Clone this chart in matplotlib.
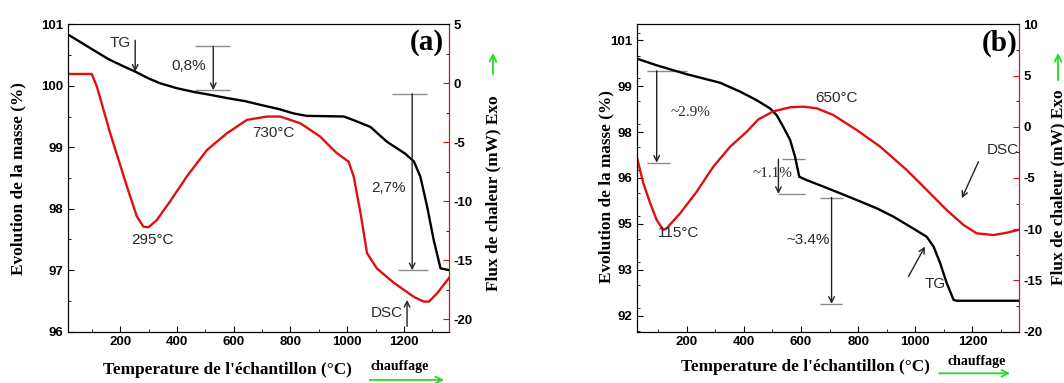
import matplotlib
matplotlib.use('Agg')
import matplotlib.pyplot as plt
from matplotlib.patches import FancyArrowPatch
from matplotlib.ticker import MultipleLocator

plt.rcParams['axes.unicode_minus'] = False

# panel (a) data
tg_a_x = [17, 60, 106, 160, 210, 253, 300, 341, 400, 459, 520, 576, 640, 694, 760, 811, 858, 988, 1023, 1082, 1140, 1203, 1235, 1258, 1282, 1305, 1329, 1361]
tg_a_y = [100.83, 100.71, 100.58, 100.43, 100.32, 100.23, 100.12, 100.04, 99.96, 99.90, 99.85, 99.80, 99.75, 99.69, 99.62, 99.55, 99.51, 99.50, 99.44, 99.33, 99.09, 98.90, 98.77, 98.52, 98.03, 97.49, 97.03, 97.0]
dsc_a_x = [15, 100, 118, 165, 224, 259, 282, 300, 329, 376, 435, 506, 576, 647, 717, 764, 835, 905, 940, 964, 1005, 1023, 1047, 1070, 1105, 1164, 1235, 1270, 1288, 1317, 1362]
dsc_a_y = [0.79, 0.79, -0.28, -4.24, -8.76, -11.3, -12.15, -12.2, -11.6, -10.0, -7.9, -5.65, -4.24, -3.1, -2.82, -2.82, -3.39, -4.52, -5.37, -5.93, -6.64, -7.9, -11.0, -14.4, -15.7, -16.9, -18.1, -18.5, -18.5, -17.8, -16.4]

# panel (b) data
tg_b_x = [25, 95, 200, 317, 387, 445, 492, 515, 538, 562, 579, 594, 620, 678, 737, 795, 865, 923, 982, 1040, 1064, 1087, 1110, 1134, 1145, 1359]
tg_b_y = [100.40, 100.18, 99.89, 99.61, 99.32, 99.04, 98.77, 98.55, 98.17, 97.74, 97.2, 96.54, 96.43, 96.22, 96.0, 95.78, 95.51, 95.24, 94.91, 94.58, 94.26, 93.72, 93.07, 92.52, 92.49, 92.49]
dsc_b_x = [25, 48, 72, 95, 118, 130, 177, 235, 293, 352, 410, 450, 503, 562, 608, 655, 713, 795, 877, 970, 1040, 1110, 1169, 1215, 1274, 1321, 1359]
dsc_b_y = [-2.9, -5.5, -7.45, -9.1, -10.08, -9.9, -8.45, -6.34, -3.9, -1.95, -0.49, 0.7, 1.5, 1.9, 1.96, 1.80, 1.15, -0.32, -1.94, -4.22, -6.17, -8.13, -9.59, -10.4, -10.57, -10.34, -10.08]

x_ticks = [200, 400, 600, 800, 1000, 1200]
left_a_ticks = [96, 97, 98, 99, 100, 101]
right_a_ticks = [-20, -15, -10, -5, 0, 5]
left_b_ticks = [92, 93.5, 95, 96.5, 98, 99.5, 101]
left_b_labels = ['92', '93', '95', '96', '98', '99', '101']
right_b_ticks = [-20, -15, -10, -5, 0, 5, 10]

RED = '#e01010'
SANS = 'Liberation Sans'
SERIF = 'Liberation Serif'
TXT = '#2a2a2a'
LAB = 12.4

fig = plt.figure(figsize=(10.64, 3.83), dpi=100)


def setup(ax, axr, xlim, ylim, ylim_r):
    ax.set_xlim(*xlim)
    ax.set_ylim(*ylim)
    axr.set_ylim(*ylim_r)
    ax.set_xticks(x_ticks)
    ax.xaxis.set_minor_locator(MultipleLocator(100))
    for a in (ax, axr):
        a.tick_params(which='both', direction='in', labelsize=9.5, pad=3)
        a.tick_params(which='major', length=4)
        a.tick_params(which='minor', length=2)
        for lab in a.get_xticklabels() + a.get_yticklabels():
            lab.set_fontfamily(SANS)
            lab.set_fontweight('bold')
    ax.tick_params(axis='y', right=False)
    axr.spines['right'].set_color(RED)
    axr.tick_params(axis='y', colors=RED, labelcolor='black')


arr = dict(arrowstyle='->', color='#222222', lw=1, shrinkA=0, shrinkB=0)
tkw = dict(family=SANS, fontsize=11, color=TXT, ha='center', va='center')
skw = dict(family=SERIF, fontsize=11, color=TXT, ha='center', va='center')
gray = '#8a8a8a'

# ---------------- panel (a)
ax = fig.add_axes([0.0636, 0.134, 0.3587, 0.8026])
axr = ax.twinx()
ax.plot(tg_a_x, tg_a_y, color='black', lw=1.7, zorder=3)
axr.plot(dsc_a_x, dsc_a_y, color=RED, lw=1.7)
ax.set_yticks(left_a_ticks)
ax.yaxis.set_minor_locator(MultipleLocator(0.5))
axr.set_yticks(right_a_ticks)
axr.yaxis.set_minor_locator(MultipleLocator(2.5))
setup(ax, axr, (15, 1360), (96, 101), (-21.05, 5))

ax.text(200, 100.70, 'TG', **tkw)
ax.annotate('', xy=(253, 100.23), xytext=(253, 100.74), arrowprops=arr)
ax.text(440, 100.32, '0,8%', **tkw)
ax.hlines([100.64, 99.93], [465, 465], [588, 588], color=gray, lw=1)
ax.annotate('', xy=(528, 99.93), xytext=(528, 100.64), arrowprops=arr)
axr.text(740, -4.21, '730°C', **tkw)
axr.text(313, -13.28, '295°C', **tkw)
ax.text(1145, 98.34, '2,7%', **tkw)
ax.hlines([99.87, 97.0], [1159, 1180], [1283, 1286], color=gray, lw=1)
ax.annotate('', xy=(1229, 97.0), xytext=(1229, 99.87), arrowprops=arr)
axr.text(1140, -19.47, 'DSC', **tkw)
axr.annotate('', xy=(1211, -18.36), xytext=(1211, -20.6), arrowprops=arr, annotation_clip=False)
ax.text(1280, 100.70, '(a)', family=SERIF, fontweight='bold', fontsize=21, ha='center', va='center')

fig.text(0.0169, 0.535, 'Evolution de la masse (%)', rotation=90, family=SERIF, fontweight='bold',
         fontsize=LAB, ha='center', va='center')
fig.text(0.4633, 0.496, 'Flux de chaleur (mW) Exo', rotation=90, family=SERIF, fontweight='bold',
         fontsize=LAB, ha='center', va='center')
fig.text(0.2133, 0.034, "Temperature de l'échantillon (°C)", family=SERIF, fontweight='bold',
         fontsize=LAB, ha='center', va='center')
fig.text(0.376, 0.042, 'chauffage', family=SERIF, fontweight='bold', fontsize=10, ha='center', va='center')

# ---------------- panel (b)
bx = fig.add_axes([0.5984, 0.134, 0.3593, 0.8026])
bxr = bx.twinx()
bx.plot(tg_b_x, tg_b_y, color='black', lw=1.7, zorder=3)
bxr.plot(dsc_b_x, dsc_b_y, color=RED, lw=1.7)
bx.set_yticks(left_b_ticks)
bx.set_yticklabels(left_b_labels)
bx.yaxis.set_minor_locator(MultipleLocator(0.75))
bxr.set_yticks(right_b_ticks)
bxr.yaxis.set_minor_locator(MultipleLocator(2.5))
setup(bx, bxr, (25, 1363), (91.48, 101.52), (-20, 10))

bx.text(212, 98.65, '~2.9%', **skw)
bx.hlines([100.0, 97.0], [60, 60], [200, 142], color=gray, lw=1)
bx.annotate('', xy=(95, 97.0), xytext=(95, 100.0), arrowprops=arr)
bx.text(502, 96.63, '~1.1%', **skw)
bx.hlines([97.11, 95.98], [532, 520], [614, 614], color=gray, lw=1)
bx.annotate('', xy=(521, 95.98), xytext=(521, 97.11), arrowprops=arr)
bx.text(625, 94.48, '~3.4%', **tkw)
bx.hlines([95.86, 92.39], [667, 667], [747, 742], color=gray, lw=1)
bx.annotate('', xy=(707, 92.39), xytext=(707, 95.86), arrowprops=arr)
bxr.text(725, 2.78, '650°C', **tkw)
bxr.text(171, -10.37, '115°C', **tkw)
bx.text(1308, 97.41, 'DSC', **tkw)
bx.annotate('', xy=(1163, 95.84), xytext=(1221, 97.03), arrowprops=arr)
bx.text(1069, 93.04, 'TG', **tkw)
bx.annotate('', xy=(1034, 94.26), xytext=(976, 93.28), arrowprops=arr)
bx.text(1295, 100.90, '(b)', family=SERIF, fontweight='bold', fontsize=21, ha='center', va='center')

fig.text(0.5702, 0.512, 'Evolution de la masse (%)', rotation=90, family=SERIF, fontweight='bold',
         fontsize=LAB, ha='center', va='center')
fig.text(0.9944, 0.512, 'Flux de chaleur (mW) Exo', rotation=90, family=SERIF, fontweight='bold',
         fontsize=LAB, ha='center', va='center')
fig.text(0.7566, 0.0426, "Temperature de l'échantillon (°C)", family=SERIF, fontweight='bold',
         fontsize=LAB, ha='center', va='center')
fig.text(0.918, 0.0556, 'chauffage', family=SERIF, fontweight='bold', fontsize=10, ha='center', va='center')

# green "chauffage" and "Exo" arrows
green = '#22dd22'
for p0, p1 in [((0.345, 0.008), (0.42, 0.008)), ((0.4633, 0.799), (0.4633, 0.869)),
               ((0.880, 0.0253), (0.952, 0.0253)), ((0.9944, 0.783), (0.9944, 0.869))]:
    fig.add_artist(FancyArrowPatch(p0, p1, transform=fig.transFigure, arrowstyle='->',
                                   mutation_scale=12, color=green, lw=1.3))

fig.savefig('out.png', dpi=100)
